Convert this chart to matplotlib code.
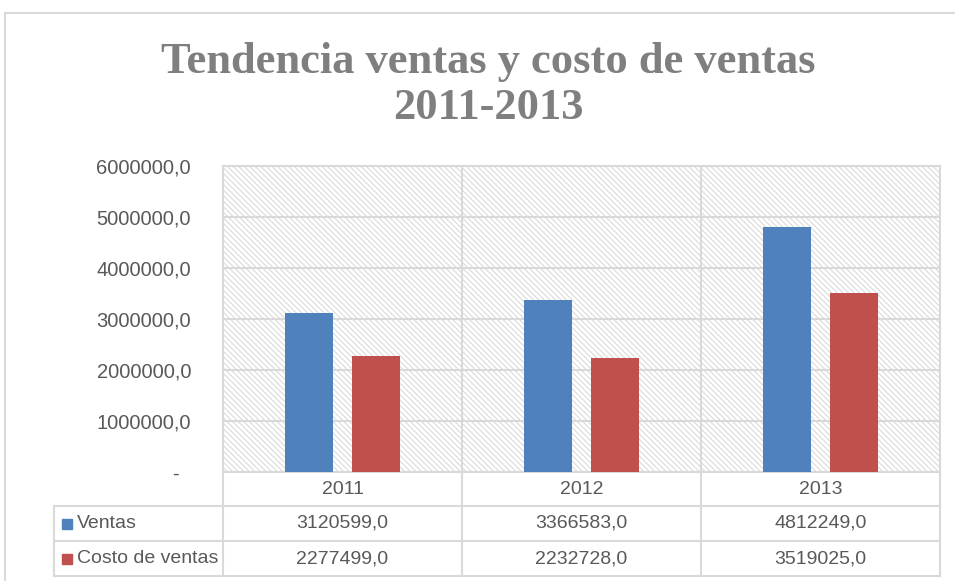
import matplotlib.pyplot as plt
from matplotlib.patches import Rectangle
from matplotlib.lines import Line2D
import numpy as np

# Data
years = ['2011', '2012', '2013']
series_names = ['Ventas', 'Costo de ventas']
ventas = [3120599.0, 3366583.0, 4812249.0]
costo = [2277499.0, 2232728.0, 3519025.0]
yticks = [0, 1000000, 2000000, 3000000, 4000000, 5000000, 6000000]

colors = ['#4f81bd', '#c0504d']
grid_col = '#d9d9d9'
text_col = '#595959'

plt.rcParams['font.family'] = ['Liberation Sans', 'DejaVu Sans']
plt.rcParams['hatch.linewidth'] = 0.7

W, H = 955, 581
fig = plt.figure(figsize=(W / 100, H / 100), dpi=100)

# plot area in pixels
px0, px1, py0, py1 = 223, 940, 166, 472
ax = fig.add_axes([px0 / W, 1 - py1 / H, (px1 - px0) / W, (py1 - py0) / H])

# hatched background
bg = Rectangle((0, 0), 1, 1, transform=ax.transAxes, facecolor='white',
               edgecolor='#d6d6d6', hatch='\\' * 6, lw=0, zorder=0)
ax.add_patch(bg)

x = np.arange(len(years))
bw = 0.197
ax.bar(x - 0.14, ventas, bw, color=colors[0], zorder=3)
ax.bar(x + 0.14, costo, bw, color=colors[1], zorder=3)

ax.set_xlim(-0.5, len(years) - 0.5)
ax.set_ylim(0, 6000000)
ax.set_yticks(yticks)
labels = ['-  ' if v == 0 else f'{v:.1f}'.replace('.', ',') for v in yticks]
ax.set_yticklabels(labels, fontsize=14.5, color=text_col)
ax.tick_params(axis='y', length=0, pad=23)
ax.set_xticks([])
ax.yaxis.grid(True, color=grid_col, lw=1.5, zorder=1)
ax.set_axisbelow(True)
for xb in x[:-1] + 0.5:
    ax.axvline(xb, color=grid_col, lw=1.5, zorder=1)
for s in ax.spines.values():
    s.set_color(grid_col)
    s.set_linewidth(1.5)

# overlay in pixel coordinates for the data table and chart border
ov2 = fig.add_axes([0, 0, 1, 1], zorder=5)
ov2.set_xlim(0, W)
ov2.set_ylim(H, 0)
ov2.axis('off')
ov2.patch.set_alpha(0)

# chart border
ov2.add_line(Line2D([5, W], [13, 13], color=grid_col, lw=1.5))
ov2.add_line(Line2D([5, 5], [13, H], color=grid_col, lw=1.5))

# table
tx0 = 54
colw = (px1 - px0) / len(years)
rows_y = [472, 506, 541, 576]
for yy in rows_y[1:]:
    ov2.add_line(Line2D([tx0, px1], [yy, yy], color=grid_col, lw=1.5))
ov2.add_line(Line2D([tx0, tx0], [rows_y[1], rows_y[3]], color=grid_col, lw=1.5))
for i in range(len(years) + 1):
    xv = px0 + i * colw
    ov2.add_line(Line2D([xv, xv], [rows_y[0], rows_y[3]], color=grid_col, lw=1.5))

for i, yr in enumerate(years):
    xc = px0 + (i + 0.5) * colw
    ov2.text(xc, (rows_y[0] + rows_y[1]) / 2, yr, ha='center', va='center',
             fontsize=14, color=text_col)
    for r, vals in enumerate([ventas, costo]):
        ov2.text(xc, (rows_y[r + 1] + rows_y[r + 2]) / 2,
                 f'{vals[i]:.1f}'.replace('.', ','), ha='center', va='center',
                 fontsize=14, color=text_col)

for r, name in enumerate(series_names):
    yc = (rows_y[r + 1] + rows_y[r + 2]) / 2
    ov2.add_patch(Rectangle((62, yc - 5), 10, 10, color=colors[r]))
    ov2.text(77, yc, name, ha='left', va='center', fontsize=14, color=text_col)

# title
ov2.text(488, 85, 'Tendencia ventas y costo de ventas\n2011-2013', ha='center',
         va='center', fontsize=32, fontweight='bold', color='#7f7f7f',
         family=['Liberation Serif', 'DejaVu Serif'], linespacing=1.2)

fig.savefig('out.png', dpi=100)
